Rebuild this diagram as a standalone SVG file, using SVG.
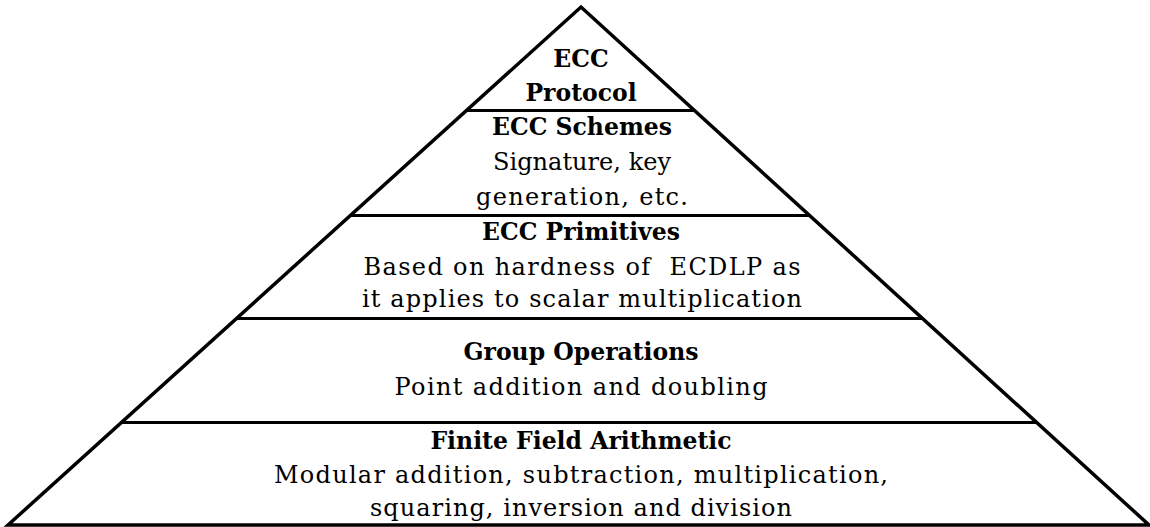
<svg xmlns="http://www.w3.org/2000/svg" width="1150" height="527" viewBox="0 0 1150 527">
<style>
  .edge { stroke: #000; stroke-width: 3; fill: none; }
  .outline { stroke: #000; stroke-width: 3.5; fill: none; stroke-linejoin: miter; }
  text { font-family: "DejaVu Serif", "Liberation Serif", serif; font-size: 24px; fill: #000; text-anchor: middle; }
  .b { font-weight: bold; font-size: 23.5px; }
</style>
<rect width="1150" height="527" fill="#fff"/>
<g id="connectors">
  <polygon class="outline" points="8,525 581,7 1149,525"/>
  <line class="edge" x1="466.5" y1="110.5" x2="694.5" y2="110.5"/>
  <line class="edge" x1="350.5" y1="215.5" x2="809.5" y2="215.5"/>
  <line class="edge" x1="236.5" y1="318.5" x2="922.5" y2="318.5"/>
  <line class="edge" x1="121.5" y1="422.5" x2="1036.5" y2="422.5"/>
</g>
<g id="layer-protocol">
  <text class="b" x="581" y="67">ECC</text>
  <text class="b" x="581" y="101">Protocol</text>
</g>
<g id="layer-schemes">
  <text class="b" x="582" y="135">ECC Schemes</text>
  <text x="582" y="170" textLength="178" lengthAdjust="spacing">Signature, key</text>
  <text x="582" y="205" textLength="212" lengthAdjust="spacing">generation, etc.</text>
</g>
<g id="layer-primitives">
  <text class="b" x="581" y="240">ECC Primitives</text>
  <text x="582" y="275" textLength="437" lengthAdjust="spacing" xml:space="preserve">Based on hardness of  ECDLP as</text>
  <text x="582" y="307" textLength="440" lengthAdjust="spacing">it applies to scalar multiplication</text>
</g>
<g id="layer-group">
  <text class="b" x="581" y="360">Group Operations</text>
  <text x="581" y="395" textLength="373" lengthAdjust="spacing">Point addition and doubling</text>
</g>
<g id="layer-field">
  <text class="b" x="581" y="449">Finite Field Arithmetic</text>
  <text x="581" y="483" textLength="614" lengthAdjust="spacing">Modular addition, subtraction, multiplication,</text>
  <text x="581" y="516" textLength="422" lengthAdjust="spacing">squaring, inversion and division</text>
</g>
</svg>
